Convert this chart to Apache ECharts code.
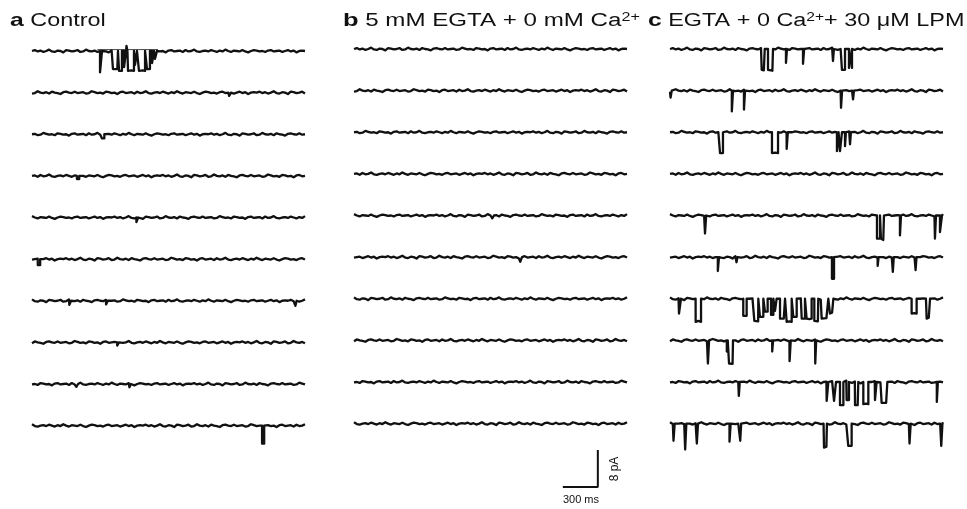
<!DOCTYPE html>
<html>
<head>
<meta charset="utf-8">
<title>Single-channel traces</title>
<script src="https://cdn.jsdelivr.net/npm/echarts@6/dist/echarts.min.js"></script>
<style>
  html, body { margin: 0; padding: 0; background: #fff; }
  #chart { width: 967px; height: 509px; }
</style>
</head>
<body>
<div id="chart"></div>
<script>
"use strict";

/* ---------- data ---------- */
// each trace: list of openings [start ms, end ms, amplitude pA]; negative amplitude = upward blip
const TRACE_MS = 2340;
const TRACE_STEP_PA = 9;   // vertical offset between sweeps

const controlEvents = [
  [[583, 600, 4.6], [694, 737, 3.9], [746, 771, 4.3], [789, 806, 3.5], [810, 818, -1.1], [823, 874, 4.3],
   [883, 900, 3.0], [917, 969, 4.3], [986, 1011, 3.9], [1029, 1046, 2.6], [1054, 1071, 1.7]],
  [[1690, 1705, 0.7]],
  [[600, 620, 0.9]],
  [[385, 405, 0.7]],
  [[895, 910, 1.0]],
  [[50, 70, 1.3]],
  [[320, 335, 0.9], [635, 650, 0.8], [2258, 2268, 1.1]],
  [[730, 745, 0.7]],
  [[380, 395, 0.6], [835, 848, 0.7]],
  [[1972, 1990, 3.9]]
];
// thin reference line drawn over the first control sweep (ms)
const controlRefLine = [560, 1080];

const egtaEvents = [
  [], [], [], [],
  [[1185, 1200, 0.6]],
  [[1425, 1440, 1.0]],
  [], [], [], []
];

const lpmEvents = [
  [[786, 812, 4.5], [840, 883, 4.5], [994, 1003, 3.0], [1140, 1150, 3.2], [1397, 1405, 2.6], [1474, 1500, 4.5], [1534, 1560, 4.1]],
  [[5, 15, 1.5], [530, 540, 4.5], [634, 643, 4.1], [1466, 1475, 3.7], [1569, 1577, 1.9]],
  [[429, 454, 4.5], [874, 926, 4.5], [1000, 1010, 3.6], [1431, 1445, 4.1], [1457, 1474, 4.1], [1500, 1508, 3.0], [1543, 1551, 2.6]],
  [],
  [[300, 310, 3.9], [1774, 1800, 5.0], [1808, 1834, 5.0], [1971, 1980, 4.3], [2271, 2280, 5.0], [2314, 2331, 3.6]],
  [[410, 420, 3.0], [570, 578, 1.1], [1388, 1406, 4.7], [1780, 1788, 1.9], [1910, 1918, 3.2], [2105, 2113, 2.8]],
  [[77, 94, 3.2], [220, 266, 5.0], [628, 657, 3.7], [723, 757, 4.8], [771, 800, 3.9], [814, 837, 2.8],
   [866, 886, 3.5], [900, 914, 2.6], [943, 986, 4.3], [1000, 1043, 5.0], [1057, 1086, 3.9], [1129, 1157, 4.3],
   [1171, 1214, 4.3], [1237, 1271, 4.8], [1300, 1357, 4.3], [1371, 1400, 3.2], [2071, 2114, 3.2], [2200, 2229, 4.3]],
  [[325, 335, 5.0], [487, 495, 2.4], [506, 540, 5.0], [876, 884, 2.4], [1025, 1035, 4.5], [1245, 1253, 5.0]],
  [[590, 598, 3.0], [1343, 1357, 4.1], [1406, 1423, 4.1], [1457, 1486, 5.0], [1514, 1534, 3.9], [1586, 1614, 5.0],
   [1657, 1700, 4.8], [1757, 1771, 3.9], [1814, 1863, 4.5], [2287, 2296, 4.3]],
  [[30, 40, 3.7], [130, 140, 5.6], [230, 240, 4.3], [510, 520, 3.9], [602, 610, 3.7], [1320, 1345, 5.2],
   [1528, 1557, 4.8], [2053, 2063, 4.3], [2325, 2335, 4.8]]
];

// baseline fluctuation, tenths of pA (estimated from the sweeps)
const baselineNoise = [0, 2, -1, 1, -2, 0, 3, -1, -2, 1, 0, -3, 2, 1, -1, 0, 2, -2, -1, 3, 0, -1, 1, -2,
  2, 0, -1, -3, 1, 2, 0, -1, 2, -1, 0, 1, -2, -1, 3, 1, -1, 0, -2, 2, 1, -1, 0, -3,
  1, 2, -1, 0, 1, -2, 2, -1, 0, 3, -1, -2, 0, 1, -1, 2, 0, -2, 1, -1, 3, 0, -2, 1,
  0, -1, 2, -1, -3, 0, 2, 1, -1, 0, -2, 1, 2, -1, 0, 1, -2, 0, 2, -1, 1, -3, 0, 1];

const scaleBarMs = 300;
const scaleBarPa = 8;

/* ---------- layout ---------- */
const PX_PER_PA = 37 / 8;
const Y_MAX = 2, Y_MIN = -98;
const panels = [
  { left: 32,  firstY: 51, events: controlEvents },
  { left: 354, firstY: 49, events: egtaEvents },
  { left: 670, firstY: 49, events: lpmEvents }
];
const FONT = "'Liberation Sans', Arial, sans-serif";

/* ---------- build ---------- */
function buildTrace(events, k) {
  const n = baselineNoise.length;
  const dt = TRACE_MS / n;
  const off = -k * TRACE_STEP_PA;
  const levelAt = t => {
    for (const e of events) if (t > e[0] && t < e[1]) return -e[2];
    return 0;
  };
  const pts = [];
  for (let j = 0; j <= n; j++) {
    const t = j * dt;
    pts.push([t, off + levelAt(t) + baselineNoise[(j + k * 17) % n] * 0.1]);
  }
  events.forEach(e => {
    pts.push([e[0], off], [e[0], off - e[2]], [e[1], off - e[2]], [e[1], off]);
  });
  pts.sort((a, b) => a[0] - b[0]);
  return pts;
}

const grids = [], xAxes = [], yAxes = [], series = [];
panels.forEach((p, gi) => {
  grids.push({
    left: p.left, width: 273,
    top: p.firstY - Y_MAX * PX_PER_PA,
    height: (Y_MAX - Y_MIN) * PX_PER_PA
  });
  xAxes.push({ gridIndex: gi, type: "value", min: 0, max: TRACE_MS, show: false });
  yAxes.push({ gridIndex: gi, type: "value", min: Y_MIN, max: Y_MAX, show: false });
  p.events.forEach((ev, k) => {
    series.push({
      type: "line", xAxisIndex: gi, yAxisIndex: gi,
      data: buildTrace(ev, k),
      showSymbol: false, silent: true,
      lineStyle: { color: "#111", width: 2.3, join: "round" }
    });
  });
});

// reference level over first control sweep
series.push({
  type: "line", xAxisIndex: 0, yAxisIndex: 0, showSymbol: false, silent: true,
  data: [[controlRefLine[0], 0.3], [controlRefLine[1], 0.3]],
  lineStyle: { color: "#111", width: 0.8 }
});

// scale bar in panel b
const barX = 2090, barY = -94.7;
series.push({
  type: "line", xAxisIndex: 1, yAxisIndex: 1, showSymbol: false, silent: true,
  data: [[barX - scaleBarMs, barY], [barX, barY], [barX, barY + scaleBarPa]],
  lineStyle: { color: "#111", width: 2 }
});

const titleRich = {
  b:   { fontFamily: FONT, fontSize: 19, fontWeight: "bold", fill: "#111" },
  n:   { fontFamily: FONT, fontSize: 18, fill: "#111" },
  sup: { fontFamily: FONT, fontSize: 12, fill: "#111", verticalAlign: "top" }
};

function titleText(x, text, sx) {
  return {
    type: "text", x: x, y: 21, scaleX: sx, silent: true,
    style: { text: text, rich: titleRich, verticalAlign: "middle", fill: "#111", font: "18px " + FONT }
  };
}

const option = {
  animation: false,
  backgroundColor: "#fff",
  grid: grids,
  xAxis: xAxes,
  yAxis: yAxes,
  series: series,
  graphic: [
    titleText(10, "{b|a} {n|Control}", 1.3),
    titleText(343, "{b|b} {n|5 mM EGTA + 0 mM Ca}{sup|2+}", 1.34),
    titleText(648, "{b|c} {n|EGTA + 0 Ca}{sup|2+}{n|+ 30 μM LPM}", 1.3),
    {
      type: "text", x: 615, y: 469, rotation: Math.PI / 2, silent: true,
      style: { text: "8 pA", font: "12px " + FONT, fill: "#111", align: "center", verticalAlign: "middle" }
    },
    {
      type: "text", x: 581, y: 500, silent: true,
      style: { text: "300 ms", font: "11px " + FONT, fill: "#111", align: "center", verticalAlign: "middle" }
    }
  ]
};

const chart = echarts.init(document.getElementById("chart"), null, { renderer: "canvas" });
chart.setOption(option);
</script>
</body>
</html>
